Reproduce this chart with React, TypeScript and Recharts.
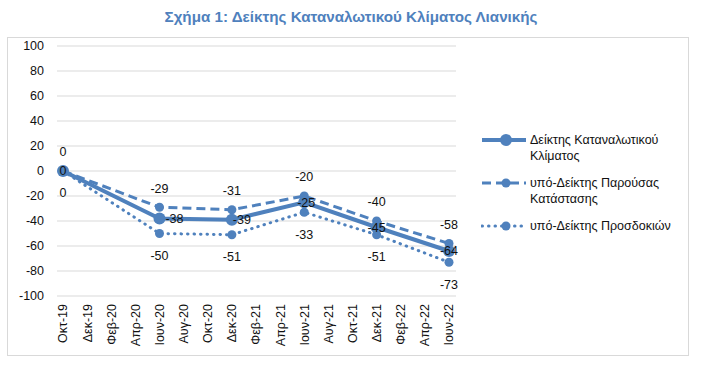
import { CartesianGrid, LabelList, Legend, Line, LineChart, XAxis, YAxis } from "recharts";

const months = [
  "Οκτ-19", "Δεκ-19", "Φεβ-20", "Απρ-20", "Ιουν-20", "Αυγ-20", "Οκτ-20", "Δεκ-20", "Φεβ-21",
  "Απρ-21", "Ιουν-21", "Αυγ-21", "Οκτ-21", "Δεκ-21", "Φεβ-22", "Απρ-22", "Ιουν-22",
];
const climate = [0, null, null, null, -38, null, null, -39, null, null, -25, null, null, -45, null, null, -64];
const current = [0, null, null, null, -29, null, null, -31, null, null, -20, null, null, -40, null, null, -58];
const expectations = [0, null, null, null, -50, null, null, -51, null, null, -33, null, null, -51, null, null, -73];
const yTicks = [100, 80, 60, 40, 20, 0, -20, -40, -60, -80, -100];

const seriesNames = [
  "Δείκτης Καταναλωτικού Κλίματος",
  "υπό-Δείκτης Παρούσας Κατάστασης",
  "υπό-Δείκτης Προσδοκιών",
];

const data = months.map((m, i) => ({
  month: m,
  climate: climate[i],
  current: current[i],
  expectations: expectations[i],
}));

const BLUE = "#4f81bd";
const FONT = "'Liberation Sans', Arial, sans-serif";

// main series labels sit on the marker, a few nudged right like the original
const mainShift: Record<string, number> = { "Ιουν-20": 15, "Δεκ-20": 10, "Ιουν-21": 2 };

function makeLabel(kind: "main" | "top" | "bottom") {
  return (props: any) => {
    const { x, y, value, index } = props;
    if (value == null || x == null || y == null) return null;
    let tx = x;
    let ty = y;
    if (kind === "main") tx = x + (mainShift[months[index]] ?? 0);
    if (kind === "top") ty = y - 19;
    if (kind === "bottom") ty = y + 22;
    return (
      <text x={tx} y={ty} dy="0.35em" textAnchor="middle" fontSize={12.5} fontFamily={FONT} fill="#111">
        {value}
      </text>
    );
  };
}

const MonthTick = (props: any) => {
  const { x, y, payload } = props;
  return (
    <text
      transform={`translate(${x},${y}) rotate(-90)`}
      textAnchor="end"
      dy="0.35em"
      fontSize={12.5}
      fontFamily={FONT}
      fill="#111"
    >
      {payload.value}
    </text>
  );
};

const legendStyles = [
  { dash: undefined, width: 4, r: 6, cap: "butt" },
  { dash: "9 5", width: 3, r: 4.5, cap: "butt" },
  { dash: "0.5 6", width: 3, r: 4.5, cap: "round" },
];

const LegendBox = () => (
  <div style={{ paddingLeft: 25, fontFamily: FONT, fontSize: 12.5, color: "#111" }}>
    {seriesNames.map((name, i) => {
      const s = legendStyles[i];
      return (
        <div key={name} style={{ display: "flex", alignItems: "flex-start", marginBottom: 11 }}>
          <svg width={46} height={16} style={{ flexShrink: 0 }}>
            <line
              x1={1}
              x2={45}
              y1={8}
              y2={8}
              stroke={BLUE}
              strokeWidth={s.width}
              strokeDasharray={s.dash}
              strokeLinecap={s.cap as any}
            />
            <circle cx={25} cy={8} r={s.r} fill={BLUE} />
          </svg>
          <div style={{ width: 160, marginLeft: 3, lineHeight: "16px" }}>{name}</div>
        </div>
      );
    })}
  </div>
);

export default function App() {
  return (
    <div style={{ position: "absolute", left: 0, top: 0, width: 722, height: 365, background: "#fff" }}>
      <div
        style={{
          position: "absolute",
          left: 0,
          top: 8,
          width: 702,
          textAlign: "center",
          fontFamily: FONT,
          fontWeight: "bold",
          fontSize: 15.2,
          color: BLUE,
        }}
      >
        Σχήμα 1: Δείκτης Καταναλωτικού Κλίματος Λιανικής
      </div>
      <div
        style={{
          position: "absolute",
          left: 7,
          top: 37,
          width: 680,
          height: 317,
          border: "1px solid #d9d9d9",
        }}
      />
      <div style={{ position: "absolute", left: 0, top: 0 }}>
        <LineChart width={722} height={365} data={data} margin={{ top: 46, right: 36, bottom: 19, left: 7 }}>
          <CartesianGrid vertical={false} stroke="#d9d9d9" />
          <XAxis
            dataKey="month"
            interval={0}
            padding={{ left: 6, right: 7 }}
            axisLine={false}
            tickLine={false}
            height={50}
            tick={<MonthTick />}
          />
          <YAxis
            domain={[-100, 100]}
            ticks={yTicks}
            width={50}
            axisLine={false}
            tickLine={false}
            tickMargin={7}
            tick={{ fill: "#111", fontSize: 12.5, fontFamily: FONT }}
          />
          <Legend
            layout="vertical"
            align="right"
            verticalAlign="middle"
            width={230}
            wrapperStyle={{ top: 132 }}
            content={<LegendBox />}
          />
          <Line
            dataKey="current"
            name={seriesNames[1]}
            stroke={BLUE}
            strokeWidth={3}
            strokeDasharray="9 5"
            dot={{ r: 4.5, fill: BLUE, stroke: BLUE, strokeWidth: 0 }}
            connectNulls
            isAnimationActive={false}
          >
            <LabelList dataKey="current" content={makeLabel("top")} />
          </Line>
          <Line
            dataKey="expectations"
            name={seriesNames[2]}
            stroke={BLUE}
            strokeWidth={3}
            strokeDasharray="0.5 6"
            strokeLinecap="round"
            dot={{ r: 4.5, fill: BLUE, stroke: BLUE, strokeWidth: 0 }}
            connectNulls
            isAnimationActive={false}
          >
            <LabelList dataKey="expectations" content={makeLabel("bottom")} />
          </Line>
          <Line
            dataKey="climate"
            name={seriesNames[0]}
            stroke={BLUE}
            strokeWidth={4}
            dot={{ r: 6, fill: BLUE, stroke: BLUE, strokeWidth: 0 }}
            connectNulls
            isAnimationActive={false}
          >
            <LabelList dataKey="climate" content={makeLabel("main")} />
          </Line>
        </LineChart>
      </div>
    </div>
  );
}
